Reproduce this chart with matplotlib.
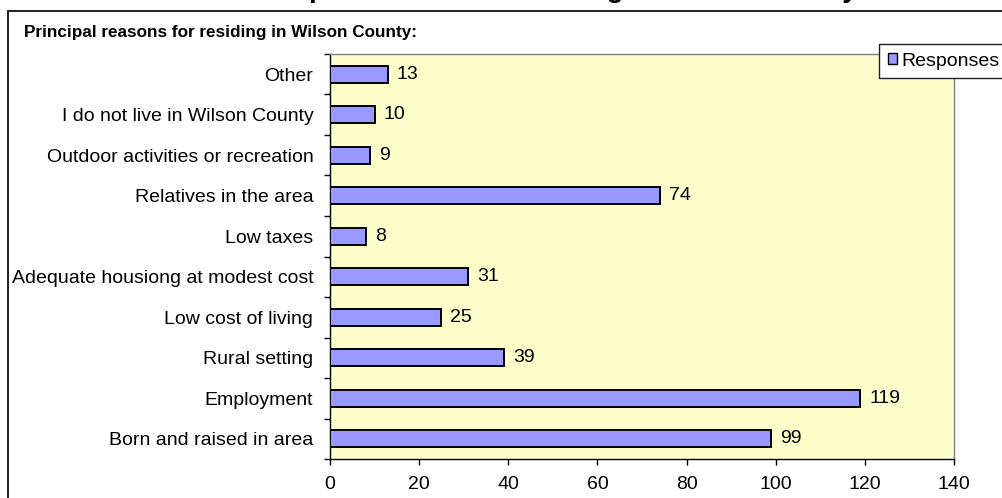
import matplotlib
matplotlib.use("Agg")
import matplotlib.pyplot as plt
from matplotlib.patches import Rectangle, Patch
from matplotlib.ticker import FixedLocator
import numpy as np

plt.rcParams['font.family'] = ['Liberation Sans', 'DejaVu Sans']

categories = ["Other", "I do not live in Wilson County", "Outdoor activities or recreation",
              "Relatives in the area", "Low taxes", "Adequate housiong at modest cost",
              "Low cost of living", "Rural setting", "Employment", "Born and raised in area"]
responses = [13, 10, 9, 74, 8, 31, 25, 39, 119, 99]
x_ticks = [0, 20, 40, 60, 80, 100, 120, 140]
series_name = "Responses"
subtitle = "Principal reasons for residing in Wilson County:"
top_title = "Principal reasons for residing in Wilson County"

W, H = 1002, 498
fig = plt.figure(figsize=(W / 100, H / 100), dpi=100)
fig.patch.set_facecolor("white")

def fx(px):
    return px / W

def fy(py):
    return 1 - py / H

FS = 14

# cut-off title at very top (only descenders visible, as in the cropped reference)
fig.text(fx(545), fy(-3), top_title, fontsize=20, fontweight="bold",
         ha="center", va="baseline", color="black")

# outer chart frame (extends beyond the cropped image)
frame = Rectangle((fx(8), fy(600)), fx(1100), fy(11) - fy(600), transform=fig.transFigure,
                  fill=False, edgecolor="#202020", linewidth=1.4, zorder=0)
fig.patches.append(frame)

fig.text(fx(24), fy(37), subtitle, fontsize=12.3, fontweight="bold", ha="left", va="baseline")

left, right, top, bottom = 330, 954, 54, 459
ax = fig.add_axes([fx(left), fy(bottom), fx(right - left), fy(top) - fy(bottom)])
ax.set_facecolor("#FFFFCC")

y = np.arange(len(categories))
ax.barh(y, responses, height=0.41, color="#9999FF", edgecolor="black", linewidth=1.4, zorder=3)

for yi, v in zip(y, responses):
    ax.annotate(str(v), xy=(v, yi), xytext=(6.5, 0), textcoords="offset points",
                ha="left", va="center", fontsize=FS)

ax.set_xlim(0, 140)
ax.set_ylim(len(categories) - 0.5, -0.5)
ax.set_xticks(x_ticks)
ax.set_xticklabels([str(t) for t in x_ticks], fontsize=FS)
ax.set_yticks(y)
ax.set_yticklabels(categories, fontsize=FS)
ax.yaxis.set_minor_locator(FixedLocator(np.arange(-0.5, len(categories), 1.0)))
ax.tick_params(axis="y", which="major", length=0, pad=12)
ax.tick_params(axis="y", which="minor", length=4.3, width=1, color="black", direction="out")
ax.tick_params(axis="x", which="major", length=4.3, width=1, color="black", direction="out", pad=8)

for s in ("top", "right"):
    ax.spines[s].set_color("#808080")
    ax.spines[s].set_linewidth(1)
for s in ("left", "bottom"):
    ax.spines[s].set_color("black")
    ax.spines[s].set_linewidth(1)

handle = Patch(facecolor="#9999FF", edgecolor="black", linewidth=1.0)
leg = fig.legend([handle], [series_name], loc="upper left",
                 bbox_to_anchor=(fx(879), fy(44)), bbox_transform=fig.transFigure,
                 fontsize=FS, handlelength=0.5, handleheight=0.5, handletextpad=0.2,
                 borderpad=0.45, borderaxespad=0, fancybox=False, framealpha=1,
                 edgecolor="#202020")
leg.get_frame().set_linewidth(1.0)

fig.savefig("out.png", dpi=100)
